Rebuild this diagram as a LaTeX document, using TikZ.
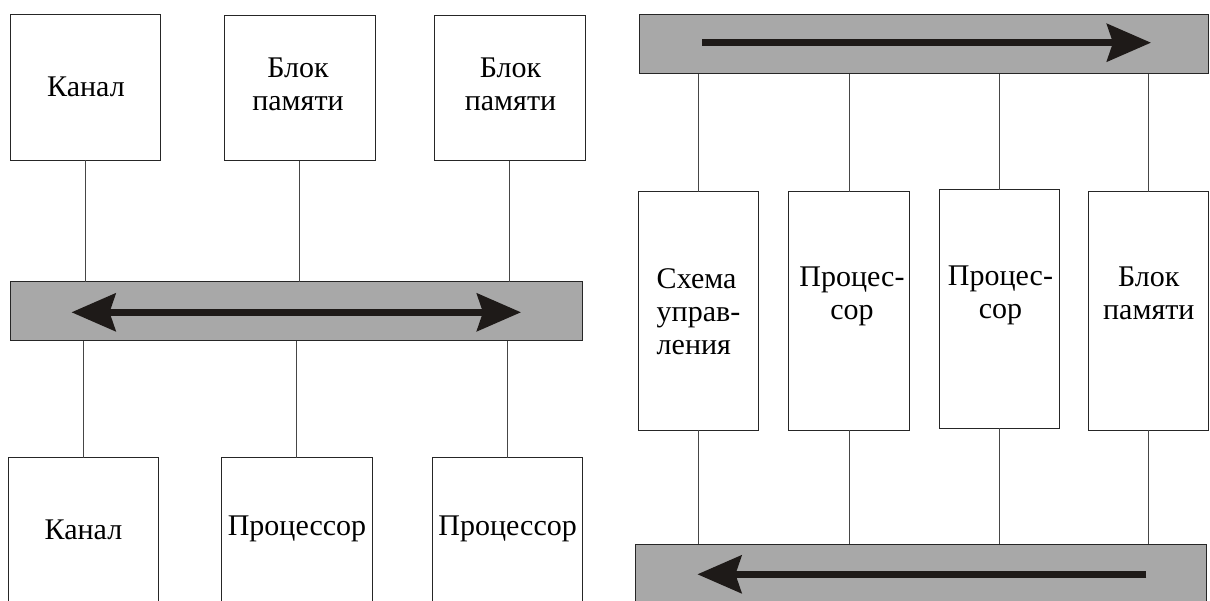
\documentclass[tikz,border=0pt]{standalone}
\usepackage{fontspec}
\setmainfont{Liberation Serif}[Script=Cyrillic]
\newfontfamily\rusfont{Liberation Serif}[Script=Cyrillic]
\usetikzlibrary{arrows.meta}
\definecolor{busgray}{RGB}{168,168,168}
\definecolor{arrowblk}{RGB}{30,26,24}
\definecolor{wiregray}{RGB}{70,70,70}

\begin{document}
\begin{tikzpicture}[x=1pt,y=1pt,yscale=-1,xscale=1,
  blk/.style={draw=black!85, line width=1pt, fill=white, inner sep=0pt, outer sep=0pt},
  bus/.style={draw=black!85, line width=1pt, fill=busgray, inner sep=0pt, outer sep=0pt},
  wire/.style={draw=wiregray, line width=1pt},
  txt/.style={inner sep=0pt, align=center, font=\rusfont\fontsize{30}{33}\selectfont},
  busarrow/.style={draw=arrowblk, line width=6.7pt, >={Stealth[length=44pt,width=37.5pt,inset=6pt]}}]
%set diagram frame 1210 x 601
\useasboundingbox (0,0) rectangle (1210,601);
\clip (0,0) rectangle (1210,601);

%Left: upper blocks
\node[blk, minimum width=150pt, minimum height=146pt] (kanT) at (85.5,87.5) {};
\node[blk, minimum width=151pt, minimum height=145.5pt] (memT1) at (299.5,88.25) {};
\node[blk, minimum width=150.5pt, minimum height=145.5pt] (memT2) at (509.75,88.25) {};
%Left: bus
\node[bus, minimum width=572pt, minimum height=59.3pt] (busL) at (296.75,311.35) {};
%Left: lower blocks (cut by the frame)
\node[blk, minimum width=149.5pt, minimum height=160pt] (kanB) at (83.25,537.7) {};
\node[blk, minimum width=150.5pt, minimum height=160pt] (procB1) at (296.75,537.7) {};
\node[blk, minimum width=150.7pt, minimum height=160pt] (procB2) at (507.35,537.7) {};

%Left: lines
\draw[wire] (kanT.south) -- (kanT.south |- busL.north);
\draw[wire] (memT1.south) -- (memT1.south |- busL.north);
\draw[wire] (memT2.south) -- (memT2.south |- busL.north);
\draw[wire] (kanB.north) -- (kanB.north |- busL.south);
\draw[wire] (procB1.north) -- (procB1.north |- busL.south);
\draw[wire] (procB2.north) -- (procB2.north |- busL.south);

%Left: double arrow
\coordinate (aL1) at (71.5,312.3);
\coordinate (aL2) at (521,312.3);
\draw[busarrow,<->] (aL1) -- (aL2);

%Right: buses
\node[bus, minimum width=569.5pt, minimum height=59pt] (busT) at (923.75,44.5) {};
\node[bus, minimum width=571pt, minimum height=64pt] (busB) at (921.3,576.3) {};
%Right: blocks
\node[blk, minimum width=120.5pt, minimum height=238.3pt] (ctl) at (698.25,310.85) {};
\node[blk, minimum width=120.7pt, minimum height=238.3pt] (proc1) at (849.05,310.85) {};
\node[blk, minimum width=120.6pt, minimum height=238pt] (proc2) at (999.3,309) {};
\node[blk, minimum width=120pt, minimum height=238.3pt] (mem) at (1148.7,310.85) {};

%Right: lines
\draw[wire] (ctl.north) -- (ctl.north |- busT.south);
\draw[wire] (proc1.north) -- (proc1.north |- busT.south);
\draw[wire] (proc2.north) -- (proc2.north |- busT.south);
\draw[wire] (mem.north) -- (mem.north |- busT.south);
\draw[wire] (ctl.south) -- (ctl.south |- busB.north);
\draw[wire] (proc1.south) -- (proc1.south |- busB.north);
\draw[wire] (proc2.south) -- (proc2.south |- busB.north);
\draw[wire] (mem.south) -- (mem.south |- busB.north);

%Right: arrows
\coordinate (aT1) at (702.3,42.7);
\coordinate (aT2) at (1151,42.7);
\draw[busarrow,->] (aT1) -- (aT2);
\coordinate (aB1) at (1146.4,574.3);
\coordinate (aB2) at (697.4,574.3);
\draw[busarrow,->] (aB1) -- (aB2);

% Text Node
\node[txt] (tKanT) at (86,87.3) {Канал};
% Text Node
\node[txt] (tMemT1) at (298,84) {Блок\\памяти};
% Text Node
\node[txt] (tMemT2) at (510.5,84) {Блок\\памяти};
% Text Node
\node[txt] (tKanB) at (83.5,530) {Канал};
% Text Node
\node[txt] (tProcB1) at (297,529.3) {Процессор};
% Text Node
\node[txt] (tProcB2) at (507.7,529.3) {Процессор};
% Text Node
\node[txt, align=left] (tCtl) at (698.5,311.3) {Схема\\управ-\\ления};
% Text Node
\node[txt] (tProc1) at (852,296.8) {Процес-\\сор};
% Text Node
\node[txt] (tProc2) at (1000.5,295) {Процес-\\сор};
% Text Node
\node[txt] (tMem) at (1148.8,293.3) {Блок\\памяти};

\end{tikzpicture}
\end{document}
